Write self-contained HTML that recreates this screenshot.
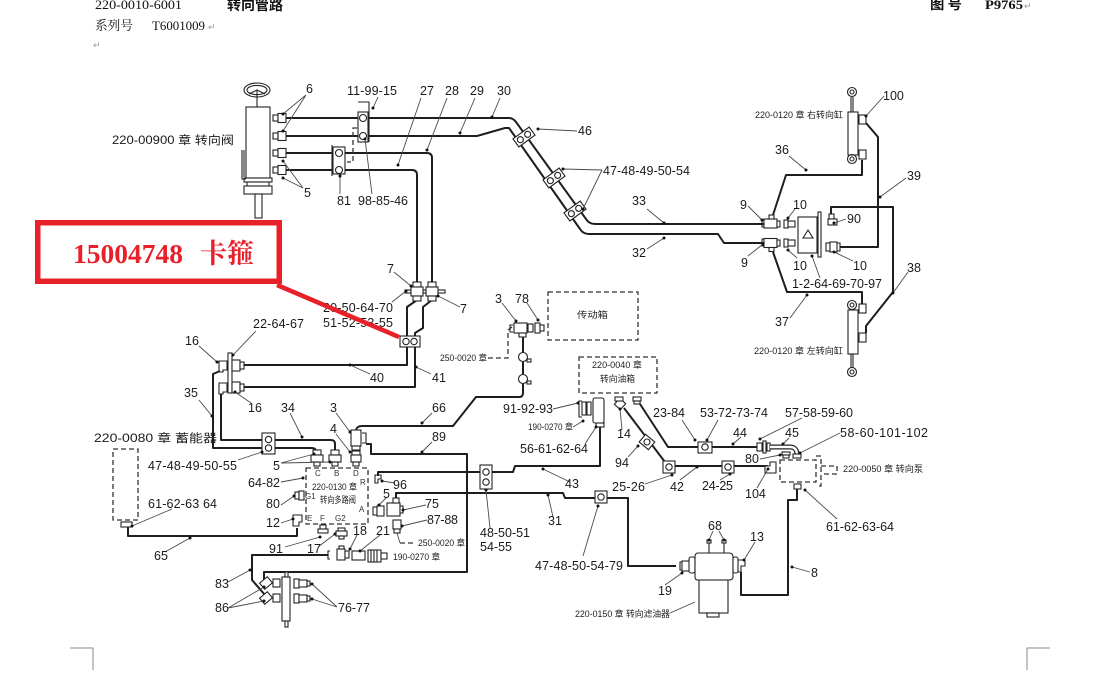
<!DOCTYPE html>
<html><head><meta charset="utf-8">
<style>
html,body{margin:0;padding:0;background:#fff;}
svg{display:block}
.p{stroke:#1e1e1e;stroke-width:2;fill:none;stroke-linejoin:round}
.l{stroke:#4a4a4a;stroke-width:.9;fill:none}
.f{fill:#fff;stroke:#222;stroke-width:1.1}
.k{fill:none;stroke:#222;stroke-width:1.1}
.d{fill:none;stroke:#333;stroke-width:1.3;stroke-dasharray:5 3}
.dt circle{fill:#111}
.n{font-family:"Liberation Sans",sans-serif;font-size:12.5px;fill:#1a1a1a}
.s{font-family:"Liberation Sans","Noto Sans CJK SC",sans-serif;font-size:9px;fill:#222}
.m{font-family:"Liberation Sans","Noto Sans CJK SC",sans-serif;font-size:11.5px;fill:#1a1a1a}
.h{font-family:"Liberation Serif","Noto Serif CJK SC",serif;font-size:13px;fill:#111}
.g{font-family:"Liberation Sans",sans-serif;font-size:9px;fill:#999}
</style></head><body>
<svg width="1113" height="677" viewBox="0 0 1113 677" xmlns="http://www.w3.org/2000/svg">
<rect width="1113" height="677" fill="#fff"/>

<!-- header -->
<text class="h" x="95" y="9" textLength="87" lengthAdjust="spacingAndGlyphs">220-0010-6001</text>
<text x="227" y="10" font-family="Noto Sans CJK SC,sans-serif" font-weight="bold" font-size="14" textLength="56" lengthAdjust="spacingAndGlyphs" fill="#111">转向管路</text>
<text class="h" x="95" y="30" textLength="38" lengthAdjust="spacingAndGlyphs">系列号</text>
<text class="h" x="152" y="30" textLength="53" lengthAdjust="spacingAndGlyphs">T6001009</text>
<text class="g" x="208" y="30">↵</text>
<text class="g" x="93" y="48">↵</text>
<text x="930" y="9" font-family="Noto Sans CJK SC,sans-serif" font-weight="bold" font-size="13" textLength="32" lengthAdjust="spacingAndGlyphs" fill="#111">图 号</text>
<text x="985" y="9" font-family="Liberation Serif,serif" font-weight="bold" font-size="13" textLength="38" lengthAdjust="spacingAndGlyphs" fill="#111">P9765</text>
<text class="g" x="1024" y="9">↵</text>

<!-- corner marks -->
<path d="M70 648 H93 V670" stroke="#888" stroke-width="1" fill="none"/>
<path d="M1050 648 H1027 V670" stroke="#888" stroke-width="1" fill="none"/>

<!-- ===== steering valve ===== -->
<g class="k" stroke-width="1.3">
<ellipse cx="257" cy="90" rx="13" ry="7"/>
<ellipse cx="257" cy="90" rx="10" ry="4.6"/>
<path d="M257 90 V107 M249 94 L257 90 L265 94"/>
</g>
<rect class="f" x="246" y="107" width="24" height="71" stroke-width="1.4"/>
<rect class="f" x="244" y="178" width="28" height="4"/>
<rect class="f" x="247" y="182" width="22" height="4"/>
<rect class="f" x="244" y="186" width="28" height="8"/>
<rect class="f" x="255" y="194" width="7" height="24"/>
<path class="k" d="M242 150 V179 H246" stroke-width="1.3"/>
<path class="k" d="M244 150 V177"/>

<!-- port fittings -->
<g>
<rect class="f" x="273" y="115" width="5" height="6"/><rect class="f" x="278" y="113.5" width="8" height="9"/>
<rect class="f" x="273" y="133" width="5" height="6"/><rect class="f" x="278" y="131.5" width="8" height="9"/>
<rect class="f" x="273" y="150" width="5" height="6"/><rect class="f" x="278" y="148.5" width="8" height="9"/>
<rect class="f" x="273" y="167" width="5" height="6"/><rect class="f" x="278" y="165.5" width="8" height="9"/>
</g>

<!-- main upper pipes -->
<path class="p" d="M286 118 H509 Q513 118 516 122 L586 219 Q589 224 595 224 H764"/>
<path class="p" d="M286 136 H477 L505 128 H509 L580 229 Q583 234 589 234 H718 L724 243 H764"/>
<path class="p" d="M286 153 H427 Q432 153 432 158 V300 L423 307 V328 L415 333 V387 H244"/>
<path class="p" d="M286 170 H412 Q417 170 417 175 V300 L407 307 V365 H244"/>

<!-- clamp 11-99-15 -->
<rect class="f" x="358" y="112" width="10" height="30"/>
<circle class="k" cx="363" cy="118" r="3.5"/><circle class="k" cx="363" cy="136" r="3.5"/>
<path class="k" d="M358 102 H369 V142" stroke-width="1.6"/>
<path class="d" d="M357 128 H353 V162 H347" stroke-width="1"/>
<!-- clamp 81 -->
<rect class="f" x="333" y="147" width="12" height="27"/>
<circle class="k" cx="339" cy="153" r="3.5"/><circle class="k" cx="339" cy="170" r="3.5"/>
<path class="k" d="M332 145 V176" stroke-width="1.8"/>

<!-- diagonal clamps -->
<g transform="translate(524,137) rotate(-36)"><rect class="f" x="-10" y="-5" width="20" height="10"/><circle class="k" cx="-4.5" cy="0" r="3"/><circle class="k" cx="4.5" cy="0" r="3"/></g>
<g transform="translate(554,178) rotate(-36)"><rect class="f" x="-10" y="-5" width="20" height="10"/><circle class="k" cx="-4.5" cy="0" r="3"/><circle class="k" cx="4.5" cy="0" r="3"/></g>
<g transform="translate(575,211) rotate(-36)"><rect class="f" x="-10" y="-5" width="20" height="10"/><circle class="k" cx="-4.5" cy="0" r="3"/><circle class="k" cx="4.5" cy="0" r="3"/></g>

<!-- ===== right: steering cylinders & valve ===== -->
<!-- fittings 9 top -->
<path class="k" d="M764 220 H762 V227 H764"/>
<rect class="f" x="764" y="219" width="13" height="9"/>
<rect class="f" x="769" y="215" width="5" height="4"/>
<rect class="f" x="777" y="221" width="3" height="6"/>
<rect class="f" x="784" y="220" width="4" height="8"/><rect class="f" x="788" y="221" width="7" height="6"/>
<!-- fittings 9 bottom -->
<path class="k" d="M764 239 H762 V246 H764"/>
<rect class="f" x="764" y="238.5" width="13" height="9"/>
<rect class="f" x="769" y="247.5" width="5" height="4"/>
<rect class="f" x="777" y="240" width="3" height="6"/>
<rect class="f" x="784" y="239" width="4" height="8"/><rect class="f" x="788" y="240" width="7" height="6"/>
<!-- center block -->
<rect class="f" x="798" y="217" width="19" height="36" stroke-width="1.3"/>
<path class="k" d="M803 238 L808 230 L813 238 Z" stroke-width="1.3"/>
<rect class="f" x="818" y="212" width="3" height="45"/>
<!-- 90 -->
<rect class="f" x="829" y="214" width="5" height="5"/><rect class="f" x="828" y="219" width="9" height="6"/>
<!-- 10 right -->
<rect class="f" x="826" y="243" width="4" height="8"/><rect class="f" x="830" y="242" width="7" height="10"/><path class="k" d="M837 243 H840 V251 H837"/>

<!-- cylinders -->
<circle class="k" cx="852" cy="92" r="4.5" stroke-width="1.4"/><circle class="k" cx="852" cy="92" r="2"/>
<path class="k" d="M851 97 V112 M853 97 V112"/>
<rect class="f" x="848" y="112" width="10" height="43"/>
<circle class="k" cx="852" cy="159" r="4.5" stroke-width="1.4"/><circle class="k" cx="852" cy="159" r="2"/>
<rect class="f" x="859" y="115" width="7" height="9"/><rect class="f" x="859" y="150" width="7" height="9"/>

<circle class="k" cx="852" cy="305" r="4.5" stroke-width="1.4"/><circle class="k" cx="852" cy="305" r="2"/>
<rect class="f" x="848" y="310" width="10" height="44"/>
<path class="k" d="M851 354 V368 M853 354 V368"/>
<circle class="k" cx="852" cy="372" r="4.5" stroke-width="1.4"/><circle class="k" cx="852" cy="372" r="2"/>
<rect class="f" x="859" y="304" width="7" height="9"/><rect class="f" x="859" y="333" width="7" height="9"/>

<path class="p" d="M773 215 L786 175 H862 V160"/>
<path class="p" d="M773 252 L787 292 H862 V304"/>
<path class="p" d="M866 123 L878 137 V247 H840"/>
<path class="p" d="M831 214 V207 H893 V292 L866 326 V333"/>

<!-- ===== middle-left ===== -->
<!-- fittings 7 -->
<rect class="f" x="405" y="290" width="40" height="3"/>
<rect class="f" x="413" y="282" width="8" height="5"/><rect class="f" x="411" y="287" width="12" height="9"/><rect class="f" x="413" y="296" width="8" height="5"/>
<rect class="f" x="428" y="282" width="8" height="5"/><rect class="f" x="426" y="287" width="12" height="9"/><rect class="f" x="428" y="296" width="8" height="5"/>
<!-- clamp on 40/41 -->
<rect class="f" x="400" y="336" width="20" height="11"/>
<circle class="k" cx="406" cy="341.5" r="3.2"/><circle class="k" cx="414" cy="341.5" r="3.2"/>

<!-- fittings 16 -->
<rect class="f" x="228" y="353" width="4" height="40"/>
<path class="f" d="M219 361 H227 V370 H223 V372 H219 Z"/>
<rect class="f" x="232" y="360" width="8" height="11"/><rect class="f" x="240" y="362" width="4" height="7"/>
<path class="f" d="M219 383 H227 V392 H223 V394 H219 Z"/>
<rect class="f" x="232" y="382" width="8" height="11"/><rect class="f" x="240" y="384" width="4" height="7"/>

<path class="p" d="M220 371 L213 374 V448 H312 Q316 448 316 452"/>
<path class="p" d="M221 394 V440 H331 Q335 440 335 444 V450"/>

<!-- clamp 47-48-49-50-55 -->
<rect class="f" x="262" y="433" width="13" height="21"/>
<circle class="k" cx="268.5" cy="439.5" r="3.2"/><circle class="k" cx="268.5" cy="448" r="3.2"/>

<!-- accumulator -->
<rect class="d" x="113" y="449" width="25" height="71"/>
<rect class="f" x="121" y="522" width="11" height="5"/>
<path class="p" d="M128 527 V536 H297 V528"/>

<!-- valve fittings C B D -->
<rect class="f" x="313" y="450" width="8" height="5"/><rect class="f" x="311" y="455" width="12" height="7"/><rect class="f" x="314" y="462" width="6" height="4"/>
<rect class="f" x="331" y="450" width="8" height="5"/><rect class="f" x="329" y="455" width="12" height="7"/><rect class="f" x="332" y="462" width="6" height="4"/>
<rect class="f" x="351" y="430" width="10" height="16"/><rect class="f" x="352" y="446" width="8" height="4"/>
<path class="k" d="M362 433 H366 V443 H362"/>
<rect class="f" x="352" y="451" width="8" height="4"/><rect class="f" x="351" y="455" width="10" height="7"/><rect class="f" x="353" y="462" width="6" height="4"/>

<!-- multi-way valve -->
<rect class="d" x="306" y="468" width="62" height="56"/>
<path class="f" d="M375 475 H381 V479 H378 V483 H375 Z"/>
<rect class="f" x="295" y="492" width="4" height="7"/><rect class="f" x="299" y="491" width="5" height="9"/>
<path class="f" d="M293 515 H302 V522 H299 V526 H293 Z"/>
<rect class="f" x="320" y="525" width="6" height="4"/><rect class="f" x="318" y="529" width="10" height="4"/>
<rect class="f" x="338" y="528" width="7" height="3"/><rect class="f" x="336" y="531" width="11" height="5"/><rect class="f" x="339" y="536" width="5" height="3"/>
<!-- A side: 5, 75, 87-88 -->
<rect class="f" x="373" y="507" width="4" height="8"/><rect class="f" x="377" y="506" width="7" height="10"/>
<rect class="f" x="387" y="503" width="13" height="13"/><rect class="f" x="393" y="498" width="6" height="5"/><rect class="f" x="400" y="506" width="3" height="7"/>
<rect class="f" x="393" y="520" width="8" height="9"/><rect class="f" x="394" y="529" width="6" height="4"/>

<path class="p" d="M356 430 Q357 426 362 426 H453 L476 397 H519 Q523 397 523 393 V337"/>
<path class="p" d="M366 444 H371 V454 H467 V572 H264 V580"/>
<path class="p" d="M378 476 V472 H513 L515 466 H600 V427"/>
<path class="p" d="M396 498 V493 H563 L565 498 H628 V566 H676"/>
<path class="p" d="M328 555 H252 V580 L265 595"/>

<!-- 18 21 motor -->
<path class="k" d="M330 551 H328 V559 H330"/>
<rect class="f" x="337" y="549" width="8" height="11"/><rect class="f" x="345" y="551" width="4" height="7"/><rect class="f" x="339" y="546" width="5" height="3"/>
<rect class="f" x="352" y="551" width="13" height="9"/>
<rect class="f" x="368" y="550" width="13" height="12"/><path class="k" d="M371 550 V562 M374 550 V562 M377 550 V562"/><rect class="f" x="381" y="553" width="6" height="6"/>

<!-- clamp 48-50-51 -->
<rect class="f" x="480" y="465" width="12" height="24"/>
<circle class="k" cx="486" cy="472" r="3.2"/><circle class="k" cx="486" cy="482" r="3.2"/>
<!-- clamp 47-48-50-54-79 -->
<rect class="f" x="595" y="491" width="12" height="12"/><circle class="k" cx="601" cy="497" r="3.2"/>

<!-- bottom manifold -->
<rect class="f" x="282" y="577" width="8" height="44"/>
<rect class="f" x="285" y="572" width="3" height="5"/><rect class="f" x="285" y="621" width="3" height="6"/>
<g transform="translate(266,583) rotate(-40)"><rect class="f" x="-5" y="-4" width="10" height="8"/></g>
<g transform="translate(266,598) rotate(-40)"><rect class="f" x="-5" y="-4" width="10" height="8"/></g>
<rect class="f" x="273" y="579" width="7" height="8"/><rect class="f" x="273" y="594" width="7" height="8"/>
<rect class="f" x="294" y="579" width="5" height="9"/><rect class="f" x="299" y="580" width="8" height="7"/><rect class="f" x="307" y="581" width="3" height="5"/>
<rect class="f" x="294" y="594" width="5" height="9"/><rect class="f" x="299" y="595" width="8" height="7"/><rect class="f" x="307" y="596" width="3" height="5"/>

<!-- ===== center right ===== -->
<!-- tee 3 / 78 -->
<path class="k" d="M513 325 H510 V332 H513"/>
<rect class="f" x="514" y="323" width="13" height="10"/><rect class="f" x="519" y="333" width="7" height="4"/>
<rect class="f" x="528" y="324" width="5" height="8"/><rect class="f" x="535" y="323" width="5" height="10"/><rect class="f" x="540" y="325" width="4" height="6"/>
<path class="d" d="M488 358 H508 V330 L512 327"/>
<rect class="d" x="548" y="292" width="90" height="48"/>
<!-- circles on 66 -->
<circle class="f" cx="523" cy="357" r="4.5"/><rect class="f" x="527" y="359" width="4" height="3"/>
<circle class="f" cx="523" cy="379" r="4.5"/><rect class="f" x="527" y="381" width="4" height="3"/>

<!-- tank -->
<rect class="d" x="579" y="357" width="78" height="36"/>
<path class="k" d="M582 401 H579 V417 H582"/>
<rect class="f" x="582" y="402" width="4" height="13"/><rect class="f" x="587" y="402" width="4" height="13"/>
<rect class="f" x="593" y="398" width="11" height="25" rx="2"/>
<rect class="f" x="596" y="423" width="8" height="4"/>
<g transform="translate(620,404) rotate(40)"><rect class="f" x="-4" y="-4" width="8" height="8"/></g>
<rect class="f" x="615" y="397" width="8" height="4"/>
<rect class="f" x="633" y="397" width="8" height="4"/><rect class="f" x="634" y="401" width="6" height="3"/>

<path class="p" d="M624 408 L668 466 H768"/>
<path class="p" d="M640 404 L668 447 H757"/>
<g transform="translate(647,442) rotate(40)"><rect class="f" x="-6" y="-5" width="12" height="10"/><circle class="k" cx="0" cy="0" r="3"/></g>
<rect class="f" x="663" y="461" width="12" height="12"/><circle class="k" cx="669" cy="467" r="3.2"/>
<rect class="f" x="722" y="461" width="12" height="12"/><circle class="k" cx="728" cy="467" r="3.2"/>
<rect class="f" x="698" y="442" width="14" height="11"/><circle class="k" cx="705" cy="447" r="3.2"/>
<!-- 57-58-59-60 and 45 -->
<rect class="f" x="757" y="443" width="5" height="8"/><rect class="f" x="763" y="441" width="3" height="12"/><rect class="f" x="767" y="443" width="3" height="8"/>
<path d="M770 447 H790 Q797 447 797 455" stroke="#222" stroke-width="5" fill="none"/>
<path d="M770 447 H790 Q797 447 797 455" stroke="#fff" stroke-width="2.4" fill="none"/>
<rect class="f" x="793" y="454" width="8" height="4"/>
<rect class="f" x="782" y="452" width="8" height="3"/><rect class="f" x="783" y="455" width="6" height="3"/>
<!-- 104 -->
<path class="f" d="M765 466 H770 V462 H776 V473 H765 Z"/>
<!-- pump -->
<path class="d" d="M780 460 H816 V482 H780 Z M816 456 H821 V486 H816 M821 466 H837 V474 H821"/>
<rect class="f" x="794" y="484" width="7" height="5"/>
<path class="p" d="M797 489 V500 H788 V595 H741 V572"/>
<path class="f" d="M736 560 H745 V566 H741 V572 H736 Z"/>

<!-- filter -->
<path class="k" d="M682 562 H680 V570 H682"/>
<rect class="f" x="682" y="561" width="9" height="10"/>
<rect class="f" x="689" y="557" width="6" height="16" rx="2"/>
<path class="f" d="M698 553 H729 Q733 553 733 557 V577 Q733 580 729 580 H698 Q695 580 695 577 V557 Q695 553 698 553 Z"/>
<rect class="f" x="733" y="557" width="5" height="16" rx="2"/>
<rect class="f" x="699" y="580" width="29" height="33"/>
<rect class="f" x="707" y="613" width="12" height="4"/>
<path class="k" d="M709 542 V553 M724 542 V553"/>
<rect class="f" x="707" y="540" width="4" height="3"/><rect class="f" x="722" y="540" width="4" height="3"/>

<!-- ===== leaders ===== -->
<g class="l">
<path d="M306 95 L283 114 M306 95 L283 131"/>
<path d="M303 188 L283 161 M303 188 L283 178"/>
<path d="M378 97 L373 108"/>
<path d="M372 194 L365 139"/>
<path d="M340 194 L340 176"/>
<path d="M421 98 L398 165 M447 98 L427 150 M475 98 L460 133 M500 98 L492 117"/>
<path d="M884 96 L866 116"/>
<path d="M577 131 L538 129"/>
<path d="M602 170 L563 169 M602 170 L583 209"/>
<path d="M789 156 L806 170"/>
<path d="M647 209 L664 223"/>
<path d="M647 249 L664 238"/>
<path d="M748 206 L762 220"/>
<path d="M748 256 L763 244"/>
<path d="M795 209 L788 218 M797 258 L788 250"/>
<path d="M846 219 L834 223"/>
<path d="M853 261 L834 252"/>
<path d="M820 278 L812 256"/>
<path d="M906 178 L880 197"/>
<path d="M908 272 L893 293"/>
<path d="M790 318 L807 295"/>
<path d="M394 272 L411 286"/>
<path d="M460 307 L438 296"/>
<path d="M392 302 L406 291"/>
<path d="M256 331 L233 355"/>
<path d="M199 346 L217 362"/>
<path d="M251 403 L235 392"/>
<path d="M370 374 L350 365"/>
<path d="M431 374 L416 367"/>
<path d="M199 400 L212 416"/>
<path d="M290 413 L302 437"/>
<path d="M238 460 L262 452"/>
<path d="M281 463 L314 454 M281 463 L330 462"/>
<path d="M336 413 L350 432"/>
<path d="M336 434 L350 452"/>
<path d="M432 413 L422 423"/>
<path d="M432 442 L422 452"/>
<path d="M281 482 L303 478"/>
<path d="M281 505 L294 496"/>
<path d="M281 523 L293 519"/>
<path d="M172 509 L132 526"/>
<path d="M165 552 L190 538"/>
<path d="M285 547 L320 537"/>
<path d="M318 547 L335 534"/>
<path d="M357 535 L350 549"/>
<path d="M380 535 L360 551"/>
<path d="M395 483 L382 481"/>
<path d="M387 497 L379 505"/>
<path d="M426 505 L403 510"/>
<path d="M427 520 L402 526"/>
<path d="M228 582 L250 570"/>
<path d="M228 608 L264 587 M228 608 L264 601"/>
<path d="M337 607 L312 584 M337 607 L312 599"/>
<path d="M502 303 L516 321"/>
<path d="M527 303 L538 320"/>
<path d="M553 409 L578 403"/>
<path d="M573 427 L583 421"/>
<path d="M585 444 L596 427"/>
<path d="M622 430 L620 409"/>
<path d="M628 457 L638 446"/>
<path d="M682 420 L695 440"/>
<path d="M718 420 L707 440"/>
<path d="M741 437 L733 444"/>
<path d="M802 418 L760 439"/>
<path d="M789 438 L783 444"/>
<path d="M840 433 L800 453"/>
<path d="M760 459 L780 455"/>
<path d="M757 488 L768 469"/>
<path d="M720 480 L730 474"/>
<path d="M680 480 L697 467"/>
<path d="M645 484 L672 475"/>
<path d="M837 519 L805 490"/>
<path d="M490 528 L486 490"/>
<path d="M570 482 L543 469"/>
<path d="M553 517 L548 495"/>
<path d="M583 556 L598 506"/>
<path d="M665 585 L682 573"/>
<path d="M755 542 L744 560"/>
<path d="M810 572 L792 567"/>
<path d="M713 531 L709 540 M719 531 L724 540"/>
<path d="M670 613 L695 602"/>
<path d="M397 533 L400 543"/>
</g>
<path class="d" d="M400 543 H416" stroke-width="1"/>
<g class="dt">
<circle cx="283" cy="114" r="1.5"/><circle cx="283" cy="131" r="1.5"/><circle cx="283" cy="161" r="1.5"/><circle cx="283" cy="178" r="1.5"/>
<circle cx="373" cy="108" r="1.5"/><circle cx="365" cy="139" r="1.5"/><circle cx="340" cy="176" r="1.5"/>
<circle cx="398" cy="165" r="1.5"/><circle cx="427" cy="150" r="1.5"/><circle cx="460" cy="133" r="1.5"/><circle cx="492" cy="117" r="1.5"/>
<circle cx="866" cy="116" r="1.5"/><circle cx="538" cy="129" r="1.5"/><circle cx="563" cy="169" r="1.5"/><circle cx="583" cy="209" r="1.5"/>
<circle cx="806" cy="170" r="1.5"/><circle cx="664" cy="223" r="1.5"/><circle cx="664" cy="238" r="1.5"/>
<circle cx="762" cy="220" r="1.5"/><circle cx="763" cy="244" r="1.5"/><circle cx="788" cy="218" r="1.5"/><circle cx="788" cy="250" r="1.5"/>
<circle cx="834" cy="223" r="1.5"/><circle cx="834" cy="252" r="1.5"/><circle cx="812" cy="256" r="1.5"/>
<circle cx="880" cy="197" r="1.5"/><circle cx="893" cy="293" r="1.5"/><circle cx="807" cy="295" r="1.5"/>
<circle cx="411" cy="286" r="1.5"/><circle cx="438" cy="296" r="1.5"/><circle cx="406" cy="291" r="1.5"/><circle cx="233" cy="355" r="1.5"/>
<circle cx="217" cy="362" r="1.5"/><circle cx="235" cy="392" r="1.5"/><circle cx="350" cy="365" r="1.5"/><circle cx="416" cy="367" r="1.5"/>
<circle cx="212" cy="416" r="1.5"/><circle cx="302" cy="437" r="1.5"/><circle cx="262" cy="452" r="1.5"/><circle cx="314" cy="454" r="1.5"/><circle cx="330" cy="462" r="1.5"/>
<circle cx="350" cy="432" r="1.5"/><circle cx="350" cy="452" r="1.5"/><circle cx="422" cy="423" r="1.5"/><circle cx="422" cy="452" r="1.5"/>
<circle cx="303" cy="478" r="1.5"/><circle cx="294" cy="496" r="1.5"/><circle cx="293" cy="519" r="1.5"/><circle cx="132" cy="526" r="1.5"/><circle cx="190" cy="538" r="1.5"/>
<circle cx="320" cy="537" r="1.5"/><circle cx="335" cy="534" r="1.5"/><circle cx="350" cy="549" r="1.5"/><circle cx="360" cy="551" r="1.5"/>
<circle cx="382" cy="481" r="1.5"/><circle cx="379" cy="505" r="1.5"/><circle cx="403" cy="510" r="1.5"/><circle cx="402" cy="526" r="1.5"/>
<circle cx="250" cy="570" r="1.5"/><circle cx="264" cy="587" r="1.5"/><circle cx="264" cy="601" r="1.5"/><circle cx="312" cy="584" r="1.5"/><circle cx="312" cy="599" r="1.5"/>
<circle cx="516" cy="321" r="1.5"/><circle cx="538" cy="320" r="1.5"/><circle cx="578" cy="403" r="1.5"/><circle cx="583" cy="421" r="1.5"/><circle cx="596" cy="427" r="1.5"/>
<circle cx="620" cy="409" r="1.5"/><circle cx="638" cy="446" r="1.5"/><circle cx="695" cy="440" r="1.5"/><circle cx="707" cy="440" r="1.5"/><circle cx="733" cy="444" r="1.5"/>
<circle cx="760" cy="439" r="1.5"/><circle cx="783" cy="444" r="1.5"/><circle cx="800" cy="453" r="1.5"/><circle cx="780" cy="455" r="1.5"/><circle cx="768" cy="469" r="1.5"/>
<circle cx="730" cy="474" r="1.5"/><circle cx="697" cy="467" r="1.5"/><circle cx="672" cy="475" r="1.5"/><circle cx="805" cy="490" r="1.5"/>
<circle cx="486" cy="490" r="1.5"/><circle cx="543" cy="469" r="1.5"/><circle cx="548" cy="495" r="1.5"/><circle cx="598" cy="506" r="1.5"/>
<circle cx="682" cy="573" r="1.5"/><circle cx="744" cy="560" r="1.5"/><circle cx="792" cy="567" r="1.5"/><circle cx="709" cy="540" r="1.5"/><circle cx="724" cy="540" r="1.5"/>
</g>

<!-- ===== labels ===== -->
<g class="n">
<text x="306" y="93">6</text>
<text x="304" y="197">5</text>
<text x="347" y="95" textLength="50">11-99-15</text>
<text x="420" y="95">27</text><text x="445" y="95">28</text><text x="470" y="95">29</text><text x="497" y="95">30</text>
<text x="337" y="205">81</text>
<text x="358" y="205" textLength="50">98-85-46</text>
<text x="883" y="100">100</text>
<text x="578" y="135">46</text>
<text x="603" y="175" textLength="87">47-48-49-50-54</text>
<text x="775" y="154">36</text>
<text x="632" y="205">33</text>
<text x="632" y="257">32</text>
<text x="740" y="209">9</text>
<text x="793" y="209">10</text>
<text x="847" y="223">90</text>
<text x="907" y="180">39</text>
<text x="741" y="267">9</text>
<text x="793" y="270">10</text>
<text x="853" y="270">10</text>
<text x="907" y="272">38</text>
<text x="792" y="288" textLength="90">1-2-64-69-70-97</text>
<text x="775" y="326">37</text>
<text x="387" y="273">7</text>
<text x="460" y="313">7</text>
<text x="323" y="312" textLength="70">20-50-64-70</text>
<text x="323" y="327" textLength="70">51-52-53-55</text>
<text x="253" y="328" textLength="51">22-64-67</text>
<text x="185" y="345">16</text>
<text x="248" y="412">16</text>
<text x="370" y="382">40</text>
<text x="432" y="382">41</text>
<text x="184" y="397">35</text>
<text x="281" y="412">34</text>
<text x="495" y="303">3</text>
<text x="515" y="303">78</text>
<text x="330" y="412">3</text>
<text x="330" y="433">4</text>
<text x="432" y="412">66</text>
<text x="432" y="441">89</text>
<text x="503" y="413" textLength="50">91-92-93</text>
<text x="520" y="453" textLength="68">56-61-62-64</text>
<text x="617" y="438">14</text>
<text x="615" y="467">94</text>
<text x="565" y="488">43</text>
<text x="653" y="417" textLength="32">23-84</text>
<text x="700" y="417" textLength="68">53-72-73-74</text>
<text x="733" y="437">44</text>
<text x="785" y="417" textLength="68">57-58-59-60</text>
<text x="785" y="437">45</text>
<text x="840" y="437" textLength="88">58-60-101-102</text>
<text x="745" y="463">80</text>
<text x="745" y="498">104</text>
<text x="702" y="490" textLength="31">24-25</text>
<text x="670" y="491">42</text>
<text x="612" y="491" textLength="33">25-26</text>
<text x="826" y="531" textLength="68">61-62-63-64</text>
<text x="480" y="537" textLength="50">48-50-51</text>
<text x="480" y="551" textLength="32">54-55</text>
<text x="548" y="525">31</text>
<text x="535" y="570" textLength="88">47-48-50-54-79</text>
<text x="708" y="530">68</text>
<text x="750" y="541">13</text>
<text x="811" y="577">8</text>
<text x="658" y="595">19</text>
<text x="148" y="470" textLength="89">47-48-49-50-55</text>
<text x="273" y="470">5</text>
<text x="248" y="487" textLength="32">64-82</text>
<text x="266" y="508">80</text>
<text x="148" y="508" textLength="69">61-62-63 64</text>
<text x="266" y="527">12</text>
<text x="154" y="560">65</text>
<text x="269" y="553">91</text>
<text x="307" y="553">17</text>
<text x="353" y="535">18</text>
<text x="376" y="535">21</text>
<text x="393" y="489">96</text>
<text x="383" y="498">5</text>
<text x="425" y="508">75</text>
<text x="427" y="524" textLength="31">87-88</text>
<text x="215" y="588">83</text>
<text x="215" y="612">86</text>
<text x="338" y="612" textLength="32">76-77</text>
</g>
<g class="m">
<text x="112" y="144" textLength="122" lengthAdjust="spacingAndGlyphs">220-00900 章 转向阀</text>
<text x="94" y="442" textLength="123" lengthAdjust="spacingAndGlyphs">220-0080 章 蓄能器</text>
</g>
<g class="s">
<text x="755" y="118" textLength="88" lengthAdjust="spacingAndGlyphs">220-0120 章 右转向缸</text>
<text x="754" y="354" textLength="89" lengthAdjust="spacingAndGlyphs">220-0120 章 左转向缸</text>
<text x="577" y="318" textLength="31" lengthAdjust="spacingAndGlyphs">传动箱</text>
<text x="440" y="361" textLength="47" lengthAdjust="spacingAndGlyphs">250-0020 章</text>
<text x="528" y="430" textLength="45" lengthAdjust="spacingAndGlyphs">190-0270 章</text>
<text x="592" y="368" textLength="50" lengthAdjust="spacingAndGlyphs">220-0040 章</text>
<text x="600" y="382" textLength="35" lengthAdjust="spacingAndGlyphs">转向油箱</text>
<text x="843" y="472" textLength="80" lengthAdjust="spacingAndGlyphs">220-0050 章 转向泵</text>
<text x="575" y="617" textLength="95" lengthAdjust="spacingAndGlyphs">220-0150 章 转向滤油器</text>
<text x="418" y="546" textLength="47" lengthAdjust="spacingAndGlyphs">250-0020 章</text>
<text x="393" y="560" textLength="47" lengthAdjust="spacingAndGlyphs">190-0270 章</text>
<text x="312" y="490" textLength="45" lengthAdjust="spacingAndGlyphs">220-0130 章</text>
<text x="320" y="503" textLength="36" lengthAdjust="spacingAndGlyphs">转向多路阀</text>
</g>
<g font-family="Liberation Sans,sans-serif" font-size="8" fill="#333">
<text x="315" y="476">C</text><text x="334" y="476">B</text><text x="353" y="476">D</text>
<text x="360" y="485">R</text>
<text x="305" y="499">G1</text>
<text x="359" y="512">A</text>
<text x="307" y="521">E</text><text x="320" y="521">F</text><text x="335" y="521">G2</text>
</g>

<!-- ===== red annotation ===== -->
<rect x="37.75" y="222.75" width="241.5" height="58.5" fill="none" stroke="#e8202a" stroke-width="5.5"/>
<text x="73" y="263" font-family="Liberation Serif,serif" font-weight="bold" font-size="27.5" fill="#e8202a" textLength="110" lengthAdjust="spacingAndGlyphs">15004748</text>
<text x="200" y="263" font-family="Noto Serif CJK SC,serif" font-weight="bold" font-size="27" fill="#e8202a" textLength="54" lengthAdjust="spacingAndGlyphs">卡箍</text>
<path d="M277 285 L399 337" stroke="#e8202a" stroke-width="4.5" fill="none"/>
</svg>
</body></html>
